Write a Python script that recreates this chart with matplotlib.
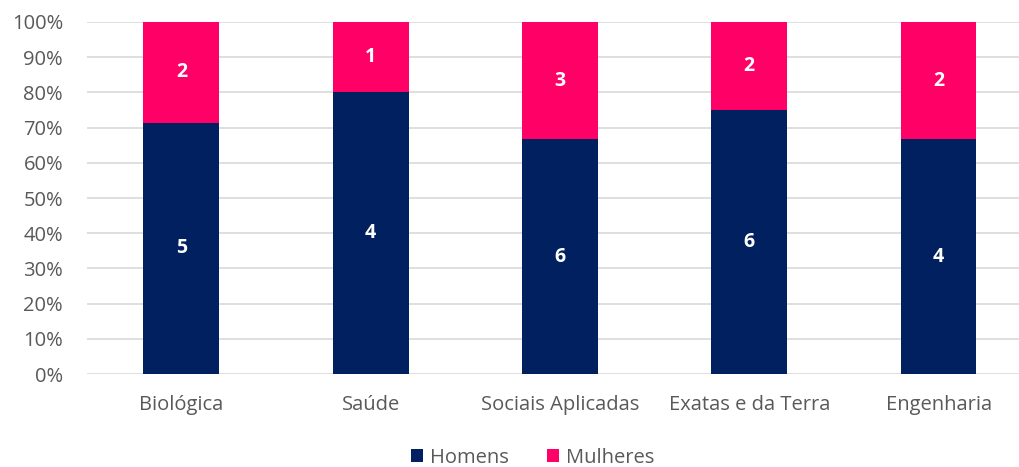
import numpy as np
import matplotlib
matplotlib.use("Agg")
import matplotlib.pyplot as plt
from matplotlib.ticker import PercentFormatter

plt.rcParams['font.family'] = ['Open Sans', 'DejaVu Sans']

categories = ['Biológica', 'Saúde', 'Sociais Aplicadas', 'Exatas e da Terra', 'Engenharia']
homens = [5, 4, 6, 6, 4]
mulheres = [2, 1, 3, 2, 2]

navy = '#002060'
pink = '#FF0066'
grey = '#595959'

h = np.array(homens, dtype=float)
m = np.array(mulheres, dtype=float)
tot = h + m
hp = h / tot * 100
mp = m / tot * 100

fig = plt.figure(figsize=(10.2, 4.67), dpi=100)
# plot area runs slightly past the right edge, as in the original
ax = fig.add_axes([0.085, 0.199, 0.928, 0.754])

x = np.arange(len(categories))
ax.bar(x, hp, width=0.4, color=navy, label='Homens', zorder=3)
ax.bar(x, mp, width=0.4, bottom=hp, color=pink, label='Mulheres', zorder=3)

for i in range(len(x)):
    ax.text(x[i], hp[i] / 2, str(homens[i]), ha='center', va='center',
            color='white', fontsize=14, fontweight='bold', zorder=4)
    ax.text(x[i], hp[i] + mp[i] / 2, str(mulheres[i]), ha='center', va='center',
            color='white', fontsize=14, fontweight='bold', zorder=4)

ax.set_xlim(-0.5, len(categories) - 0.5)
ax.set_ylim(0, 100)
ax.set_yticks(np.arange(0, 101, 10))
ax.yaxis.set_major_formatter(PercentFormatter(decimals=0))
ax.grid(axis='y', color='#d9d9d9', linewidth=1.2, zorder=0)
ax.set_xticks(x)
ax.set_xticklabels(categories)
ax.tick_params(axis='both', length=0, labelsize=14.5, labelcolor=grey)
ax.tick_params(axis='x', pad=15)
ax.tick_params(axis='y', pad=17)
for s in ax.spines.values():
    s.set_visible(False)

fig.legend(loc='lower center', bbox_to_anchor=(0.522, -0.04), ncol=2, frameon=False,
           fontsize=14.5, labelcolor=grey, handlelength=0.6, handleheight=0.6,
           handletextpad=0.35, columnspacing=1.9)

fig.savefig('out.png', dpi=100)
